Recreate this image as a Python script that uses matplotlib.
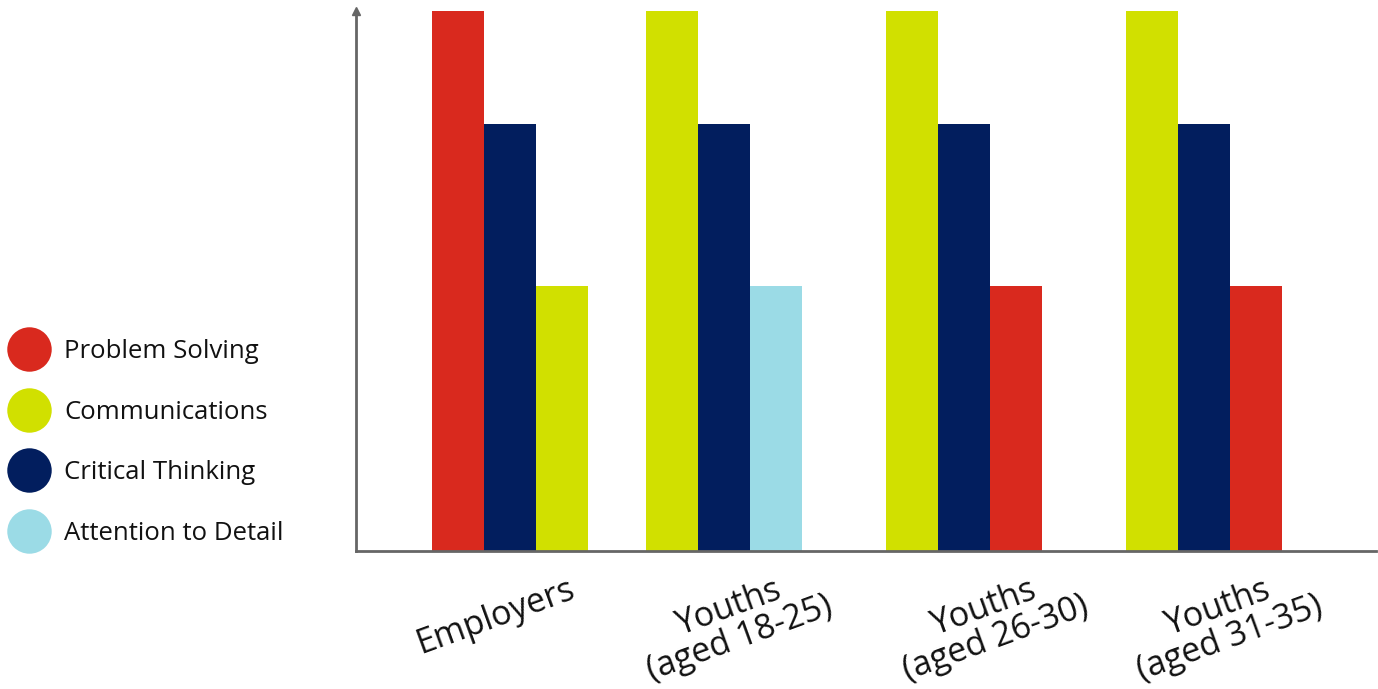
import numpy as np
import matplotlib.pyplot as plt
import matplotlib.transforms as mtransforms
from matplotlib.lines import Line2D

plt.rcParams['font.family'] = ['Open Sans', 'DejaVu Sans']

skills = ['Problem Solving', 'Communications', 'Critical Thinking', 'Attention to Detail']
skill_colors = {'Problem Solving': '#D9291E', 'Communications': '#D1E000',
                'Critical Thinking': '#021E5E', 'Attention to Detail': '#9BDBE6'}

groups = ['Employers', 'Youths\n(aged 18-25)', 'Youths\n(aged 26-30)', 'Youths\n(aged 31-35)']
group_pos = [0.0, 0.89, 1.89, 2.89]

# three bars per group, left to right
bar_skills = [['Problem Solving', 'Critical Thinking', 'Communications'],
              ['Communications', 'Critical Thinking', 'Attention to Detail'],
              ['Communications', 'Critical Thinking', 'Problem Solving'],
              ['Communications', 'Critical Thinking', 'Problem Solving']]
bar_values = [[100, 79, 49],
              [100, 79, 49],
              [100, 79, 49],
              [100, 79, 49]]

w = 52 / 240
# label nudges (layout only)
lab_dx = [-0.06, 0.045, 0.11, 0.085]
lab_y = [-0.122, -0.134, -0.134, -0.134]

fig = plt.figure(figsize=(13.78, 6.89), dpi=100)
ax = fig.add_axes([356/1378, 138/689, 1020/1378, 540/689])

for g, x0 in enumerate(group_pos):
    for k in range(3):
        ax.bar(x0 + (k - 1) * w, bar_values[g][k], width=w,
               color=skill_colors[bar_skills[g][k]], linewidth=0)

ax.set_xlim(-0.642, 3.608)
ax.set_ylim(0, 100)
for s in ['top', 'right']:
    ax.spines[s].set_visible(False)
for s in ['left', 'bottom']:
    ax.spines[s].set_color('#666666')
    ax.spines[s].set_linewidth(2)
ax.plot([0], [1], marker='^', color='#666666', markersize=6,
        transform=ax.transAxes, clip_on=False)
ax.set_yticks([])
ax.set_xticks([])

trans = mtransforms.blended_transform_factory(ax.transData, ax.transAxes)
for g, lab in enumerate(groups):
    ax.text(group_pos[g] + lab_dx[g], lab_y[g], lab, transform=trans,
            rotation=20, rotation_mode='anchor', ha='center', va='center',
            multialignment='center', fontsize=24.5, color='#111111',
            linespacing=0.95)

handles = [Line2D([], [], marker='o', linestyle='', markersize=32,
                  markerfacecolor=skill_colors[s], markeredgewidth=0) for s in skills]
fig.legend(handles, skills, loc='center left', bbox_to_anchor=(-0.006, 0.358),
           frameon=False, fontsize=18.5, labelspacing=1.38, handletextpad=0.61,
           handlelength=1.5, borderaxespad=0.3, labelcolor='#111111')

plt.savefig('out.png')
